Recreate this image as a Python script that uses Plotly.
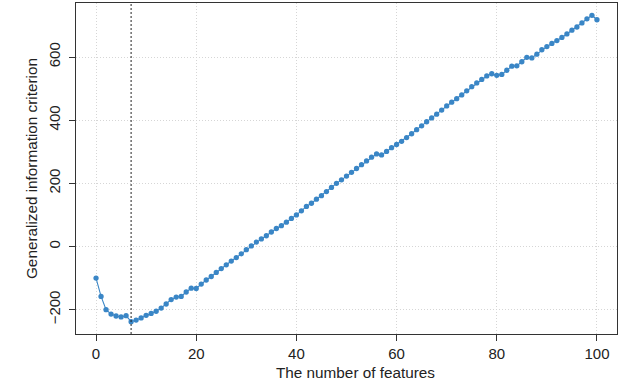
import plotly.graph_objects as go

n_features = list(range(0, 101))
gic = [
    -100, -158, -200, -214, -220, -223, -219, -238, -233, -226,
    -218, -212, -205, -195, -182, -168, -160, -158, -144, -132,
    -133, -119, -106, -95, -82, -70, -58, -46, -35, -23,
    -10, 2, 14, 24, 34, 46, 57, 66, 77, 89,
    100, 113, 127, 137, 150, 161, 174, 187, 200, 211,
    223, 235, 247, 259, 271, 283, 293, 290, 301, 313,
    323, 333, 345, 357, 370, 382, 395, 407, 419, 432,
    445, 457, 468, 480, 493, 506, 518, 529, 540, 547,
    542, 545, 558, 571, 572, 585, 599, 597, 609, 623,
    633, 643, 652, 662, 673, 685, 695, 708, 721, 732,
    718,
]
best_k = 7
x_ticks = [0, 20, 40, 60, 80, 100]
y_ticks = [-200, 0, 200, 400, 600]
y_tick_labels = ["\u2212200", "0", "200", "400", "600"]

x_range = [-4, 104]
y_range = [-277, 771]

fig = go.Figure()
fig.add_trace(go.Scatter(
    x=n_features, y=gic, mode="lines+markers",
    line=dict(color="#3a86c6", width=1.1),
    marker=dict(color="#3a86c6", size=5.3),
    showlegend=False, hoverinfo="skip",
))
fig.add_trace(go.Scatter(
    x=[best_k, best_k], y=y_range, mode="lines",
    line=dict(color="#222222", width=1, dash="2px,2px"),
    showlegend=False, hoverinfo="skip",
))

tick_font = dict(family="Liberation Sans, Arial, sans-serif", size=15, color="#222222")
title_font = dict(family="Liberation Sans, Arial, sans-serif", size=15.3, color="#222222")
fig.update_layout(
    width=623, height=386,
    margin=dict(l=76, r=6, t=3, b=52),
    plot_bgcolor="white", paper_bgcolor="white",
    font=tick_font,
    annotations=[dict(
        text="The number of features", font=title_font,
        xref="paper", yref="paper", x=0.5166, y=-0.1163,
        xanchor="center", yanchor="middle", showarrow=False,
    )],
)
fig.update_xaxes(
    range=x_range, tickvals=x_ticks, ticktext=[str(v) for v in x_ticks],
    tickfont=tick_font,
    showgrid=True, gridcolor="#d6d6d6", griddash="1px,2px", gridwidth=1,
    zeroline=False, showline=True, linecolor="#333333", linewidth=1.2, mirror=True,
    ticks="outside", ticklen=6, tickcolor="#333333",
)
fig.update_yaxes(
    range=y_range, tickvals=y_ticks, ticktext=y_tick_labels,
    tickangle=-90, tickfont=tick_font, ticklabelstandoff=3,
    showgrid=True, gridcolor="#d6d6d6", griddash="1px,2px", gridwidth=1,
    zeroline=False, showline=True, linecolor="#333333", linewidth=1.2, mirror=True,
    ticks="outside", ticklen=6, tickcolor="#333333",
    title=dict(text="Generalized information criterion", standoff=4, font=title_font),
)

fig.write_html("out.html")
